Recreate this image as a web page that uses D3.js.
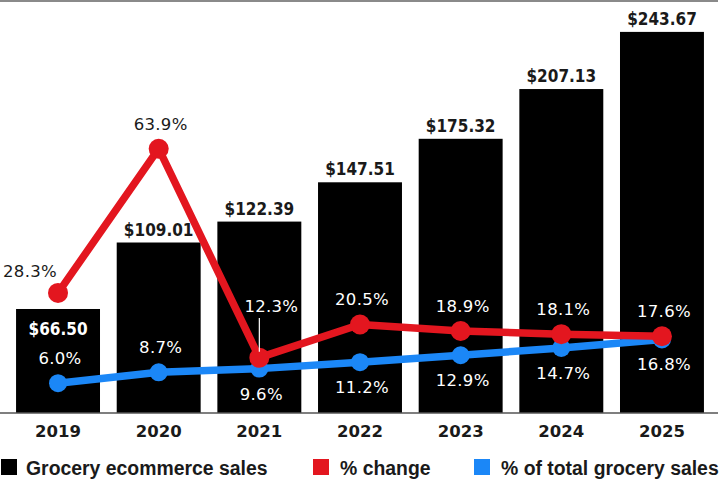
<!DOCTYPE html>
<html>
<head>
<meta charset="utf-8">
<script src="https://cdn.jsdelivr.net/npm/d3@7"></script>
<style>
  html, body { margin: 0; padding: 0; background: #fff; }
  svg { display: block; }
</style>
</head>
<body>
<svg id="chart" width="727" height="486"></svg>
<script>
const years = ["2019", "2020", "2021", "2022", "2023", "2024", "2025"];
const sales = [66.50, 109.01, 122.39, 147.51, 175.32, 207.13, 243.67];
const salesLabels = ["$66.50", "$109.01", "$122.39", "$147.51", "$175.32", "$207.13", "$243.67"];
const pctChange = [28.3, 63.9, 12.3, 20.5, 18.9, 18.1, 17.6];
const pctTotal = [6.0, 8.7, 9.6, 11.2, 12.9, 14.7, 16.8];
const legendLabels = ["Grocery ecommerce sales", "% change", "% of total grocery sales"];

const BLACK = "#000000", RED = "#e3161f", BLUE = "#1b87f7";
const svg = d3.select("#chart");

const x = d3.scaleBand().domain(years).range([7.7, 712.3]).paddingInner(0.166).paddingOuter(0.083);
const ySales = d3.scaleLinear().domain([0, 250]).range([413, 22]);
const yPct = d3.scaleLinear().domain([0, 100]).range([407.5, 2.5]);
const cx = d => x(d) + x.bandwidth() / 2;

// top rule
svg.append("line").attr("x1", 0).attr("x2", 718).attr("y1", 1).attr("y2", 1)
  .attr("stroke", "#8a8a8a").attr("stroke-width", 2);

// bars
svg.append("g").selectAll("rect").data(years).join("rect")
  .attr("x", d => x(d)).attr("width", x.bandwidth())
  .attr("y", (d, i) => ySales(sales[i]))
  .attr("height", (d, i) => ySales(0) - ySales(sales[i]))
  .attr("fill", BLACK);

// baseline
svg.append("line").attr("x1", 0).attr("x2", 718).attr("y1", ySales(0)).attr("y2", ySales(0))
  .attr("stroke", "#555").attr("stroke-width", 1.5);

// x axis
const ax = svg.append("g").attr("transform", `translate(0,${ySales(0)})`)
  .call(d3.axisBottom(x).tickSize(0).tickPadding(12));
ax.select(".domain").remove();
ax.selectAll("text").attr("font-family", "DejaVu Sans, sans-serif").attr("font-weight", "bold")
  .attr("font-size", 16.5).attr("fill", "#1a1a1a");

// bar value labels
svg.append("g").selectAll("text").data(years).join("text")
  .attr("x", d => cx(d))
  .attr("y", (d, i) => i === 0 ? 335 : ySales(sales[i]) - 7)
  .attr("text-anchor", "middle")
  .attr("font-family", "DejaVu Sans Condensed, DejaVu Sans, sans-serif")
  .attr("font-weight", "bold").attr("font-size", 17)
  .attr("fill", (d, i) => i === 0 ? "#fff" : "#1a1a1a")
  .text((d, i) => salesLabels[i]);

// lines
const lineTotal = d3.line().x((d, i) => cx(years[i])).y(d => yPct(d));
svg.append("path").datum(pctTotal).attr("d", lineTotal)
  .attr("fill", "none").attr("stroke", BLUE).attr("stroke-width", 7.5).attr("stroke-linejoin", "round");
svg.append("g").selectAll("circle").data(pctTotal).join("circle")
  .attr("cx", (d, i) => cx(years[i])).attr("cy", d => yPct(d)).attr("r", 9).attr("fill", BLUE);

svg.append("path").datum(pctChange).attr("d", lineTotal)
  .attr("fill", "none").attr("stroke", RED).attr("stroke-width", 7.5).attr("stroke-linejoin", "round");
svg.append("g").selectAll("circle").data(pctChange).join("circle")
  .attr("cx", (d, i) => cx(years[i])).attr("cy", d => yPct(d)).attr("r", 10).attr("fill", RED);

const pctFont = g => g.attr("font-family", "DejaVu Sans, sans-serif").attr("font-size", 16.5)
  .attr("letter-spacing", 0.3).attr("text-anchor", "middle");

// % change labels
const changeLabels = svg.append("g").call(pctFont);
changeLabels.selectAll("text").data(pctChange).join("text")
  .attr("x", (d, i) => cx(years[i]) + (i === 0 ? -28 : i === 2 ? 12 : 2))
  .attr("y", (d, i) => i === 0 ? yPct(d) - 16 : i === 2 ? 312 : yPct(d) - 19)
  .attr("fill", (d, i) => i < 2 ? "#1a1a1a" : "#fff")
  .text(d => d.toFixed(1) + "%");
// leader for 2021
svg.append("line")
  .attr("x1", cx(years[2])).attr("x2", cx(years[2]))
  .attr("y1", 318).attr("y2", yPct(pctChange[2]) - 6)
  .attr("stroke", "#fff").attr("stroke-width", 1.2);

// % of total labels
const totalLabels = svg.append("g").call(pctFont);
totalLabels.selectAll("text").data(pctTotal).join("text")
  .attr("x", (d, i) => cx(years[i]) + 2)
  .attr("y", (d, i) => i < 2 ? yPct(d) - 19 : yPct(d) + 31)
  .attr("fill", "#fff")
  .text(d => d.toFixed(1) + "%");

// legend
const legendColors = [BLACK, RED, BLUE];
const legendX = [1, 313, 474];
const lg = svg.append("g").selectAll("g").data(legendLabels).join("g")
  .attr("transform", (d, i) => `translate(${legendX[i]},459)`);
lg.append("rect").attr("width", 16).attr("height", 16).attr("fill", (d, i) => legendColors[i]);
lg.append("text").attr("x", (d, i) => i === 0 ? 25 : 27).attr("y", 16)
  .attr("font-family", "Liberation Sans, Arial, sans-serif").attr("font-weight", "bold")
  .attr("font-size", 19.4).attr("fill", "#1a1a1a")
  .text(d => d);
</script>
</body>
</html>
